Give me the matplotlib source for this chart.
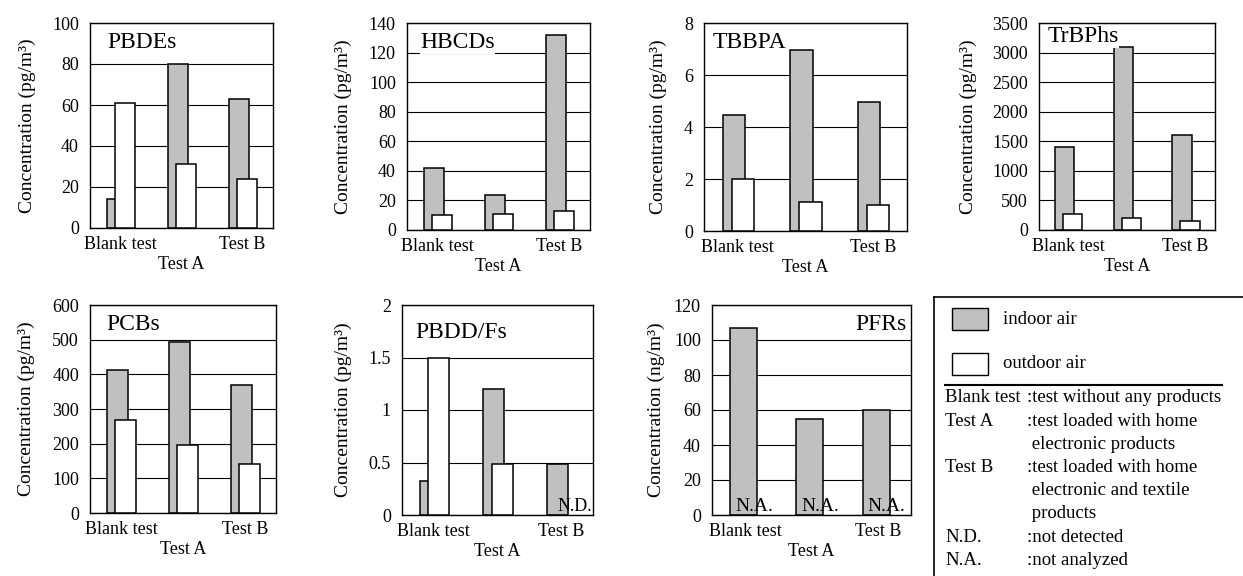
import numpy as np
import matplotlib
matplotlib.use("Agg")
import matplotlib.pyplot as plt
from matplotlib.patches import Rectangle

plt.rcParams['font.family'] = ['Liberation Serif', 'DejaVu Serif']

# data
groups = ["Blank test", "Test A", "Test B"]
names = ["PBDEs", "HBCDs", "TBBPA", "TrBPhs", "PCBs", "PBDD/Fs", "PFRs"]
indoor = [
    [14, 80, 63],
    [42, 24, 132],
    [4.45, 6.95, 4.95],
    [1400, 3100, 1600],
    [412, 492, 370],
    [0.32, 1.2, 0.49],
    [107, 55, 60],
]
outdoor = [
    [61, 31, 24],
    [10, 11, 13],
    [2.0, 1.1, 1.0],
    [270, 200, 150],
    [268, 196, 142],
    [1.5, 0.49, np.nan],
    [np.nan, np.nan, np.nan],
]
ytop = [100, 140, 8, 3500, 600, 2, 120]
ystep = [20, 20, 2, 500, 100, 0.5, 20]
units = ["pg", "pg", "pg", "pg", "pg", "pg", "ng"]
notes = [None, None, None, None, None, ["", "", "N.D."], ["N.A.", "N.A.", "N.A."]]

W, H = 1243, 576
fig = plt.figure(figsize=(W / 100, H / 100), dpi=100)

# axes boxes in pixels: left, top, right, bottom
boxes = [(90, 23, 273, 228), (407, 23, 590, 230), (704, 23, 907, 231), (1039, 23, 1215, 230),
         (90, 305, 276, 513), (402, 305, 593, 515), (712, 305, 911, 515)]
label_off = [54, 55, 37, 62, 55, 50, 47]
title_pos = [(17, -20, 'left'), (13, -20, 'left'), (9, -20, 'left'), (9, -14, 'left'),
             (16, -20, 'left'), (13, -27, 'left'), (-4, -20, 'right')]
in_shift = [-0.06] * 6 + [-0.025]
in_width = [0.33] * 6 + [0.41]

x = np.arange(len(groups))
for i in range(7):
    l, t, r, b = boxes[i]
    ax = fig.add_axes([l / W, 1 - b / H, (r - l) / W, (b - t) / H])
    ax.set_axisbelow(True)
    ax.bar(x + in_shift[i], indoor[i], in_width[i], color='#c0c0c0', edgecolor='black',
           linewidth=1.1, zorder=2)
    ax.bar(x + 0.075, outdoor[i], 0.33, color='white', edgecolor='black', linewidth=1.1, zorder=3)
    ax.set_xlim(-0.5, 2.5)
    ax.set_ylim(0, ytop[i])
    ticks = np.arange(0, ytop[i] + ystep[i] / 2, ystep[i])
    ax.set_yticks(ticks)
    ax.set_yticklabels([f"{v:g}" for v in ticks])
    ax.grid(axis='y', color='black', linewidth=0.8)
    ax.set_xticks(x)
    ax.set_xticklabels(["Blank test", "\nTest A", "Test B"])
    ax.tick_params(length=0, labelsize=13)
    ax.tick_params(axis='y', pad=8)
    ax.tick_params(axis='x', pad=6)
    for s in ax.spines.values():
        s.set_linewidth(1.0)
    ax.set_ylabel(f"Concentration ({units[i]}/m³)", fontsize=14)
    ax.yaxis.set_label_coords(-label_off[i] / (r - l), 0.5)
    dx, dy, ha = title_pos[i]
    ax.annotate(names[i], xy=(0 if ha == 'left' else 1, 1), xycoords='axes fraction',
                xytext=(dx, dy), textcoords='offset pixels', ha=ha, va='center', fontsize=17,
                bbox=dict(facecolor='white', edgecolor='none', pad=0), zorder=5)
    if notes[i]:
        for k, s in enumerate(notes[i]):
            if s:
                xo = 0.22 if s == "N.D." else 0.13
                ax.text(k + xo, 0, s, ha='center', va='bottom',
                        fontsize=13 if s == "N.D." else 14, zorder=4)

# legend / explanation box
lg = fig.add_axes([934 / W, 0, (W - 934) / W, (H - 297) / H])
lg.set_xlim(934, W)
lg.set_ylim(H, 297)
lg.set_xticks([])
lg.set_yticks([])
lg.spines['right'].set_visible(False)
lg.spines['bottom'].set_visible(False)
lg.spines['left'].set_linewidth(1.2)
lg.spines['top'].set_linewidth(1.2)
lg.add_patch(Rectangle((952, 308), 36, 22, facecolor='#c0c0c0', edgecolor='black', linewidth=1))
lg.add_patch(Rectangle((952, 353), 36, 22, facecolor='white', edgecolor='black', linewidth=1))
lg.text(1003, 319, "indoor air", va='center', fontsize=13.5)
lg.text(1003, 364, "outdoor air", va='center', fontsize=13.5)
lg.plot([945, 1222], [385, 385], color='black', linewidth=1.5)
abbr = ["Blank test", "Test A", "", "Test B", "", "", "N.D.", "N.A."]
desc = [":test without any products", ":test loaded with home", " electronic products",
        ":test loaded with home", " electronic and textile", " products",
        ":not detected", ":not analyzed"]
for k in range(len(desc)):
    yy = 398 + k * 23.2
    lg.text(945, yy, abbr[k], va='center', fontsize=13.5)
    lg.text(1027, yy, desc[k], va='center', fontsize=13.5)

fig.savefig("out.png", dpi=100)
